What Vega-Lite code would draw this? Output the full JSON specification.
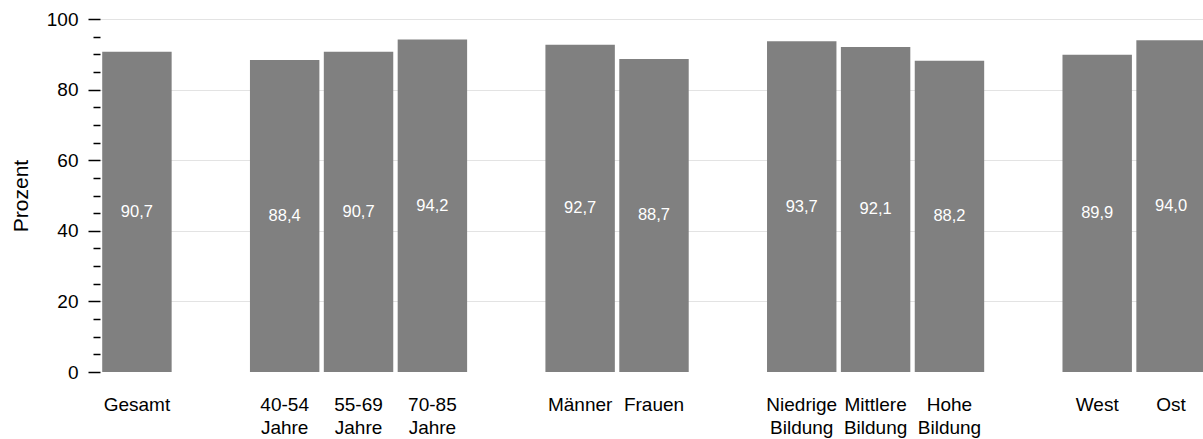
{
  "$schema": "https://vega.github.io/schema/vega-lite/v6.json",
  "width": 1108,
  "height": 353,
  "autosize": "none",
  "padding": {"left": 100, "top": 19, "right": 0, "bottom": 67},
  "config": {
    "view": {"stroke": null},
    "font": "Liberation Sans",
    "locale": {"number": {"decimal": ",", "thousands": ".", "grouping": [3], "currency": ["", " €"]}}
  },
  "data": {
    "values": [
      {"cat": "Gesamt", "value": 90.7},
      {"cat": "40-54|Jahre", "value": 88.4},
      {"cat": "55-69|Jahre", "value": 90.7},
      {"cat": "70-85|Jahre", "value": 94.2},
      {"cat": "Männer", "value": 92.7},
      {"cat": "Frauen", "value": 88.7},
      {"cat": "Niedrige|Bildung", "value": 93.7},
      {"cat": "Mittlere|Bildung", "value": 92.1},
      {"cat": "Hohe|Bildung", "value": 88.2},
      {"cat": "West", "value": 89.9},
      {"cat": "Ost", "value": 94.0}
    ]
  },
  "transform": [{"calculate": "datum.value / 2", "as": "mid"}],
  "encoding": {
    "x": {
      "field": "cat",
      "type": "nominal",
      "scale": {
        "domain": ["Gesamt", "_a", "40-54|Jahre", "55-69|Jahre", "70-85|Jahre", "_b", "Männer", "Frauen", "_c", "Niedrige|Bildung", "Mittlere|Bildung", "Hohe|Bildung", "_d", "West", "Ost"],
        "paddingInner": 0.06,
        "paddingOuter": 0.03
      },
      "axis": {
        "title": null,
        "domain": false,
        "ticks": false,
        "labelAngle": 0,
        "labelFontSize": 19,
        "labelColor": "#000000",
        "labelPadding": 23,
        "labelBaseline": "top",
        "labelLineHeight": 23.5,
        "labelExpr": "indexof(datum.value,'_') === 0 ? '' : split(datum.value,'|')"
      }
    }
  },
  "layer": [
    {
      "mark": {"type": "bar", "color": "#808080"},
      "encoding": {
        "y": {
          "field": "value",
          "type": "quantitative",
          "scale": {"domain": [0, 100], "nice": false},
          "axis": {
            "title": "Prozent",
            "titleFontSize": 21,
            "titleFontWeight": "normal",
            "titleColor": "#000000",
            "titlePadding": 15,
            "domain": false,
            "values": [0, 20, 40, 60, 80, 100],
            "labelFontSize": 19,
            "labelColor": "#000000",
            "labelPadding": 10,
            "tickColor": "#000000",
            "tickWidth": 1.5,
            "tickSize": 12,
            "grid": true,
            "gridColor": "#e3e3e3",
            "gridWidth": 1,
            "gridOpacity": {"condition": {"test": "datum.value > 0", "value": 1}, "value": 0}
          }
        }
      }
    },
    {
      "mark": {"type": "text", "color": "#ffffff", "fontSize": 16.5, "baseline": "middle"},
      "encoding": {
        "y": {
          "field": "mid",
          "type": "quantitative",
          "axis": {
            "orient": "left",
            "title": null,
            "domain": false,
            "labels": false,
            "grid": false,
            "values": [5, 10, 15, 25, 30, 35, 45, 50, 55, 65, 70, 75, 85, 90, 95],
            "tickColor": "#000000",
            "tickWidth": 1.5,
            "tickSize": 7
          }
        },
        "text": {"field": "value", "type": "quantitative", "format": ".1f"}
      }
    }
  ],
  "resolve": {"axis": {"y": "independent"}}
}
